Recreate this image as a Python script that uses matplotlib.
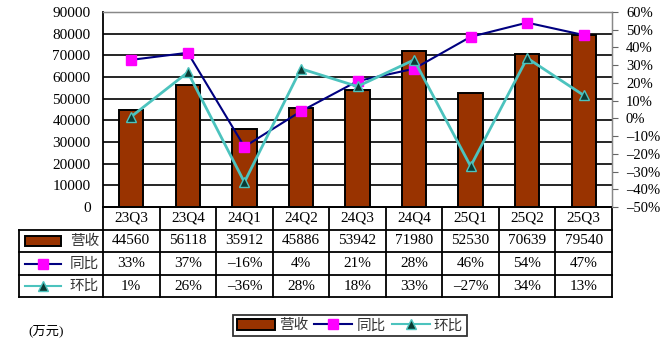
import matplotlib
matplotlib.use('Agg')
import matplotlib.pyplot as plt
from matplotlib.lines import Line2D
from matplotlib.patches import Rectangle
from matplotlib.ticker import FuncFormatter, MultipleLocator

quarters = ['23Q3', '23Q4', '24Q1', '24Q2', '24Q3', '24Q4', '25Q1', '25Q2', '25Q3']
revenue = [44560, 56118, 35912, 45886, 53942, 71980, 52530, 70639, 79540]
yoy = [33, 37, -16, 4, 21, 28, 46, 54, 47]
qoq = [1, 26, -36, 28, 18, 33, -27, 34, 13]

BAR = '#993300'
YOY_LINE = '#000080'
YOY_MARK = '#FF00FF'
QOQ_LINE = '#4CC3BE'
QOQ_MARK = '#0B3B33'
GRID = 'black'

plt.rcParams['font.family'] = ['Liberation Serif', 'Noto Sans CJK SC']


def pct(v):
    return f'{v:.0f}%'.replace('-', '\u2013')


W, H = 660, 349
fig = plt.figure(figsize=(W / 100, H / 100), dpi=100)

# overlay in pixel coordinates for the data table under the plot
tab = fig.add_axes([0, 0, 1, 1])
tab.set_xlim(0, W)
tab.set_ylim(H, 0)
tab.axis('off')

L, R, T, B = 103, 612, 12, 207
ax = fig.add_axes([L / W, 1 - B / H, (R - L) / W, (B - T) / H])
x = list(range(len(quarters)))

ax.bar(x, revenue, width=0.43, color=BAR, edgecolor='black', linewidth=1.4, zorder=3)
ax.set_xlim(-0.5, len(quarters) - 0.5)
ax.set_ylim(0, 90000)
ax.yaxis.set_major_locator(MultipleLocator(10000))
ax.set_xticks([])
ax.grid(axis='y', color=GRID, linewidth=1.2)
ax.set_axisbelow(True)
ax.tick_params(axis='y', length=0, pad=9, labelsize=11)
for s in ['left', 'bottom']:
    ax.spines[s].set_color('black')
    ax.spines[s].set_linewidth(1.3)
for s in ['top', 'right']:
    ax.spines[s].set_color('#888888')
    ax.spines[s].set_linewidth(1.0)

ax2 = ax.twinx()
ax2.plot(x, yoy, color=YOY_LINE, linewidth=1.5, marker='s', markersize=7.5,
         markerfacecolor=YOY_MARK, markeredgecolor=YOY_MARK, zorder=4)
ax2.plot(x, qoq, color=QOQ_LINE, linewidth=2, marker='^', markersize=7.5,
         markerfacecolor=QOQ_MARK, markeredgecolor=QOQ_LINE, markeredgewidth=1, zorder=5)
ax2.set_ylim(-50, 60)
ax2.yaxis.set_major_locator(MultipleLocator(10))
ax2.yaxis.set_major_formatter(FuncFormatter(lambda v, p: pct(v)))
ax2.tick_params(axis='y', direction='out', length=4, color='#666666', pad=6, labelsize=10.5)
for s in ['left', 'bottom']:
    ax2.spines[s].set_visible(False)
ax2.spines['top'].set_color('#888888')
ax2.spines['right'].set_color('#888888')

# table
lw = 1.3
x0 = 19
colw = (R - L) / len(quarters)
rows_y = [207, 229.5, 252.3, 275, 297]
tab.plot([L, R], [rows_y[0]] * 2, color='black', lw=lw)
for y in rows_y[1:]:
    tab.plot([x0, R], [y, y], color='black', lw=lw)
tab.plot([x0, x0], [rows_y[1], rows_y[-1]], color='black', lw=lw)
for i in range(len(quarters) + 1):
    xv = L + i * colw
    tab.plot([xv, xv], [rows_y[0], rows_y[-1]], color='black', lw=lw)

mid = [(rows_y[i] + rows_y[i + 1]) / 2 for i in range(4)]
rows = [quarters, [str(v) for v in revenue],
        [pct(v) for v in yoy],
        [pct(v) for v in qoq]]
for r, vals in enumerate(rows):
    for i, t in enumerate(vals):
        tab.text(L + (i + 0.5) * colw, mid[r], t, ha='center', va='center', fontsize=11)

# row keys
tab.add_patch(Rectangle((25, mid[1] - 5), 36, 10, facecolor=BAR, edgecolor='black', lw=1.4))
tab.plot([25, 61], [mid[2]] * 2, color=YOY_LINE, lw=1.5)
tab.plot([43], [mid[2]], marker='s', markersize=7, color=YOY_MARK, lw=0)
tab.plot([25, 61], [mid[3]] * 2, color=QOQ_LINE, lw=1.5)
tab.plot([43], [mid[3]], marker='^', markersize=7, markerfacecolor=QOQ_MARK,
         markeredgecolor=QOQ_LINE, lw=0)
for r, name in zip([1, 2, 3], ['营收', '同比', '环比']):
    tab.text(99, mid[r], name, ha='right', va='center', fontsize=10.5, color='#333333')

tab.text(28, 331, '(万元)', ha='left', va='center', fontsize=9.5)

handles = [Rectangle((0, 0), 1, 1, facecolor=BAR, edgecolor='black', lw=1.4),
           Line2D([], [], color=YOY_LINE, lw=1.5, marker='s', markersize=7,
                  markerfacecolor=YOY_MARK, markeredgecolor=YOY_MARK),
           Line2D([], [], color=QOQ_LINE, lw=1.5, marker='^', markersize=7,
                  markerfacecolor=QOQ_MARK, markeredgecolor=QOQ_LINE)]
leg = fig.legend(handles, ['营收', '同比', '环比'], ncol=3, loc='center',
                 bbox_to_anchor=(350 / W, 1 - 325.5 / H), frameon=True, fancybox=False,
                 edgecolor='black', handlelength=2.6, handleheight=0.8, columnspacing=0.4,
                 handletextpad=0.3, borderpad=0.25, borderaxespad=0, fontsize=10.5)
leg.get_frame().set_linewidth(1.3)
for t in leg.get_texts():
    t.set_color('#333333')

fig.savefig('out.png', dpi=100)
